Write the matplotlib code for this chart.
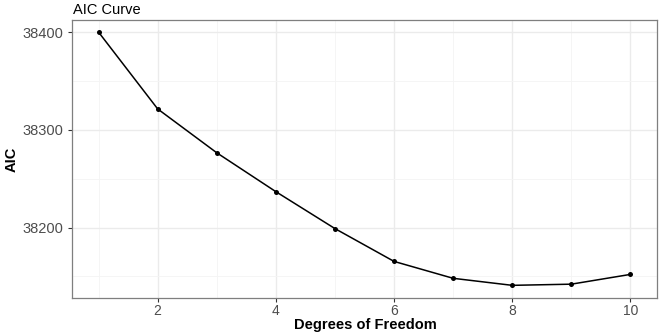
import matplotlib
matplotlib.use("Agg")
import matplotlib.pyplot as plt
from matplotlib.ticker import MultipleLocator

plt.rcParams['font.family'] = ['Liberation Sans', 'DejaVu Sans']

dof = [1, 2, 3, 4, 5, 6, 7, 8, 9, 10]
aic = [38400, 38321.4, 38276.5, 38236.7, 38198.9, 38165.3, 38148.0, 38140.8, 38142.0, 38152.0]
x_ticks = [2, 4, 6, 8, 10]
y_ticks = [38200, 38300, 38400]

fig = plt.figure(figsize=(6.64, 3.32), dpi=100)
ax = fig.add_axes([72/664, 1 - 298/332, (657 - 72)/664, (298 - 19.5)/332])

ax.plot(dof, aic, color='black', lw=1.1, zorder=3)
ax.scatter(dof, aic, s=13, color='black', zorder=4, linewidths=0)

xr = max(dof) - min(dof)
ax.set_xlim(min(dof) - 0.05 * xr, max(dof) + 0.05 * xr)
yr = max(aic) - min(aic)
ax.set_ylim(min(aic) - 0.05 * yr, max(aic) + 0.05 * yr)

ax.set_xticks(x_ticks)
ax.set_yticks(y_ticks)
ax.xaxis.set_minor_locator(MultipleLocator(1))
ax.yaxis.set_minor_locator(MultipleLocator(50))
ax.grid(which='major', color='#EBEBEB', lw=1.0, zorder=0)
ax.grid(which='minor', color='#F4F4F4', lw=0.6, zorder=0)
ax.set_axisbelow(True)
ax.tick_params(which='minor', length=0)
ax.tick_params(axis='y', which='major', labelsize=10.5)
ax.tick_params(axis='x', which='major', labelsize=10, pad=1)
ax.tick_params(which='major', length=3, width=0.8, color='#333333',
               labelcolor='#4D4D4D')
for s in ax.spines.values():
    s.set_color('#7F7F7F')
    s.set_linewidth(0.9)

fig.text(365/664, 0.5/332, 'Degrees of Freedom', fontsize=10.5, fontweight='bold',
         ha='center', va='bottom')
fig.text(12/664, 1 - 159/332, 'AIC', fontsize=10.5, fontweight='bold',
         ha='center', va='center', rotation=90)
fig.text(73/664, 1 - 10/332, 'AIC Curve', fontsize=10.5, ha='left', va='center')

fig.savefig('out.png', dpi=100)
